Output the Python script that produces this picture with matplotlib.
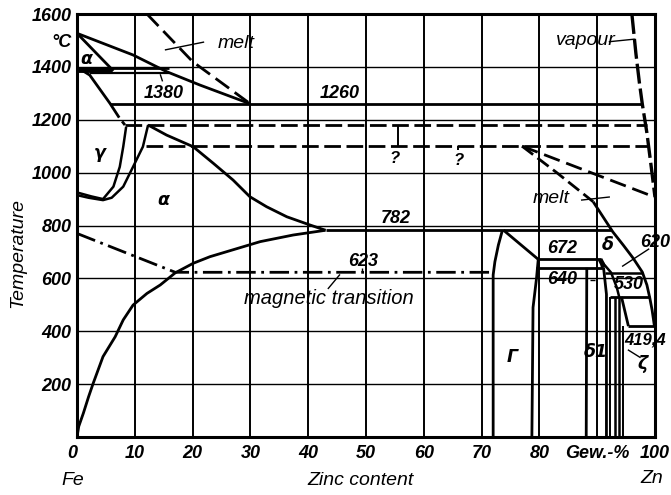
import matplotlib
matplotlib.use("Agg")
import matplotlib.pyplot as plt

# --- phase boundaries (Zn wt-%, temperature degC) ---
liquidus_fe = [(0, 1527), (9.7, 1445), (15.5, 1382), (21.3, 1331), (30, 1260)]
delta_solidus = [(0, 1527), (6.3, 1385)]
peritectic_1380 = [(0, 1394), (16, 1394)]
peritectic_low = [(2.2, 1375), (16, 1375)]
delta_gamma = [(0, 1389), (6, 1389)]
gamma_top_a = [(0.5, 1392), (2.2, 1369), (5.7, 1262), (7.3, 1208)]
gamma_top_b = [(7.8, 1194), (8.3, 1180)]
gamma_inner = [(8.5, 1173), (8.0, 1098), (7.4, 1022), (6.3, 947), (4.5, 900), (2.5, 910), (0, 925)]
gamma_outer = [(12.3, 1180), (11.4, 1098), (9.7, 1022), (8.0, 947), (6.0, 905), (4.5, 896), (2.0, 905), (0, 915)]
alpha_solidus = [(12.3, 1180), (15.5, 1142), (20.1, 1098), (23.6, 1035), (27, 972), (29.9, 909),
                 (32.8, 871), (36.3, 833), (40.3, 802), (43, 782)]
alpha_solvus = [(0, 0), (0.3, 40), (1.1, 90), (2.0, 152), (2.8, 203), (4.5, 304), (6.6, 379), (8.0, 443),
                (9.7, 499), (12.1, 543), (14.4, 575), (17, 621), (20.1, 657), (23, 682), (25.9, 701),
                (31.7, 739), (37.4, 764), (43, 782)]
melt_dashed = [(12.1, 1600), (20, 1420), (30, 1260)]
line_1260 = [(5.7, 1260), (97.8, 1260)]
line_1180 = [(8.3, 1180), (98.7, 1180)]
line_1100 = [(12, 1100), (98.8, 1100)]
query_stem = [(55.5, 1180), (55.5, 1100)]
query_tick = [(66, 1100), (66, 1085)]
vapour = [(96.0, 1600), (96.7, 1450), (97.3, 1340), (97.8, 1260), (98.6, 1150), (99.3, 1030), (100, 907)]
zn_upper_dashed = [(77, 1100), (100, 907)]
zn_liq_dashed = [(77, 1100), (83, 1000), (89.3, 890)]
zn_liquidus = [(89.3, 890), (92.7, 776), (94.5, 726), (96.2, 677), (97.8, 624), (98.6, 575),
               (99.1, 526), (99.5, 480), (99.9, 419.4)]
line_782 = [(43, 782), (92.4, 782)]
magnetic = [(0, 770), (17, 623), (71.5, 623)]
gamma_left = [(72, 0), (72, 613), (72.3, 663), (72.9, 726), (73.6, 782)]
gamma_topr = [(73.8, 782), (79.8, 672)]
gamma_right = [(79.8, 672), (79.5, 600), (78.9, 490), (78.7, 0)]
line_672 = [(79.8, 672), (90.6, 672)]
line_640 = [(79.4, 640), (91.0, 640)]
delta1_left = [(88.2, 640), (88.1, 0)]
delta_left = [(90.5, 672), (90.9, 655), (91.1, 640)]
delta1_right = [(91.1, 640), (91.3, 600), (91.6, 540), (91.6, 0)]
delta_diag = [(90.9, 660), (92.4, 622), (93.4, 565), (93.8, 530)]
line_620 = [(91.3, 620), (97.9, 620)]
line_530 = [(92.2, 530), (99.2, 530)]
zeta_a = [(92.3, 530), (92.3, 0)]
zeta_b = [(93.1, 530), (93.1, 0)]
zeta_c = [(93.7, 530), (93.7, 0)]
zeta_liq = [(94.2, 530), (95.4, 419.4)]
zeta_d = [(94.4, 419.4), (94.4, 0)]
line_419 = [(95.4, 419.4), (100, 419.4)]

yticks = [200, 400, 600, 800, 1000, 1200, 1400, 1600]
xticks = [0, 10, 20, 30, 40, 50, 60, 70, 80, 90, 100]
xticklabels = ['0', '10', '20', '30', '40', '50', '60', '70', '80', 'Gew.-%', '100']

num_font = dict(family=['Liberation Sans', 'DejaVu Sans'], style='italic', weight='bold')
word_font = dict(family=['Liberation Sans', 'DejaVu Sans'], style='italic')

fig = plt.figure(figsize=(6.71, 4.95), dpi=100)
ax = fig.add_axes([77 / 671, 1 - 437 / 495, 578 / 671, 423 / 495])
ax.set_xlim(0, 100)
ax.set_ylim(0, 1600)

ax.set_xticks(xticks)
ax.set_yticks(yticks)
ax.set_xticklabels(xticklabels, fontsize=13, **num_font)
ax.set_yticklabels([str(t) for t in yticks], fontsize=13, **num_font)
ax.tick_params(length=0, pad=4)
ax.tick_params(axis='x', pad=6)
ax.xaxis.grid(True, color='k', lw=1.4)
ax.yaxis.grid(True, color='k', lw=1.0)
ax.set_axisbelow(True)
for s in ax.spines.values():
    s.set_linewidth(2.2)
ax.get_xticklabels()[0].set_ha('right')


def draw(pts, lw=2.0, **kw):
    xs = [p[0] for p in pts]
    ys = [p[1] for p in pts]
    ax.plot(xs, ys, color='k', lw=lw, solid_capstyle='butt', **kw)


for pts in [liquidus_fe, delta_solidus, peritectic_1380, gamma_top_a, gamma_top_b,
            alpha_solidus, alpha_solvus, line_1260, line_782, gamma_left, gamma_topr,
            gamma_right, line_672, line_640, zn_liquidus, delta1_left, delta1_right,
            line_530, zeta_liq, line_419]:
    draw(pts)
draw(peritectic_low, lw=1.6)
draw(delta_gamma, lw=3.5)
draw(delta_left, lw=3.5)
draw(vapour, lw=2.4, dashes=(6, 1.5))
for pts in [gamma_inner, gamma_outer, delta_diag, line_620, zeta_b, zeta_c]:
    draw(pts, lw=1.8)
for pts in [zeta_a, zeta_d]:
    draw(pts, lw=1.4)
draw(query_stem, lw=1.4)
draw(query_tick, lw=1.4)

for pts in [line_1180, line_1100]:
    draw(pts, lw=2.0, dashes=(6, 2))
draw(melt_dashed, lw=2.0, dashes=(6, 2.5))
draw(zn_upper_dashed, lw=2.0, dashes=(6, 2.5))
draw(zn_liq_dashed, lw=2.0, dashes=(5, 2))
draw(magnetic, lw=2.0, dashes=(7, 2, 1, 2))

# leaders
draw([(15.2, 1464), (22.0, 1494)], lw=1.0)
draw([(92.0, 1495), (96.5, 1505)], lw=1.0)
draw([(87.2, 896), (92.2, 908)], lw=1.0)
draw([(43.4, 560), (45.5, 615)], lw=1.0)
draw([(49.3, 640), (49.3, 623)], lw=1.0)
draw([(14.4, 1372), (14.8, 1345)], lw=1.0)
draw([(99.0, 712), (94.3, 645)], lw=1.0)
draw([(88.8, 595), (89.6, 595)], lw=1.0)
draw([(95.3, 330), (97.5, 300)], lw=1.0)

# value labels
for txt, x, t in [('1380', 15, 1300), ('1260', 45.5, 1300), ('782', 55.2, 828), ('623', 49.5, 662),
                  ('672', 84, 712), ('640', 84, 594), ('620', 100, 737), ('530', 95.4, 578)]:
    ax.text(x, t, txt, ha='center', va='center', fontsize=13, **num_font)
ax.text(98.3, 367, '419,4', ha='center', va='center', fontsize=12, **num_font)

for txt, x, t in [('?', 55, 1055), ('?', 66, 1045)]:
    ax.text(x, t, txt, ha='center', va='center', fontsize=12, **num_font)

# phase labels
for txt, x, t in [('α', 1.6, 1428), ('γ', 4.0, 1075), ('α', 15, 896), ('Γ', 75.3, 303),
                  ('δ', 91.9, 726), ('δ1', 89.8, 321), ('ζ', 97.9, 278)]:
    ax.text(x, t, txt, ha='center', va='center', fontsize=12.5,
            family=['DejaVu Sans'], style='italic', weight='bold')

ax.text(27.5, 1490, 'melt', ha='center', va='center', fontsize=14, **word_font)
ax.text(88.0, 1500, 'vapour', ha='center', va='center', fontsize=14, **word_font)
ax.text(82, 904, 'melt', ha='center', va='center', fontsize=14, **word_font)
ax.text(43.6, 523, 'magnetic transition', ha='center', va='center', fontsize=14.5, **word_font)

ax.text(-0.9, 1494, '°C', ha='right', va='center', fontsize=13, **num_font)
ax.text(-0.7, -163, 'Fe', ha='center', va='center', fontsize=14, **word_font)
ax.text(49, -163, 'Zinc content', ha='center', va='center', fontsize=14, **word_font)
ax.text(99.5, -158, 'Zn', ha='center', va='center', fontsize=14, **word_font)
ax.text(-10.2, 696, 'Temperature', ha='center', va='center', rotation=90, fontsize=14, **word_font)

fig.savefig('out.png', dpi=100)
